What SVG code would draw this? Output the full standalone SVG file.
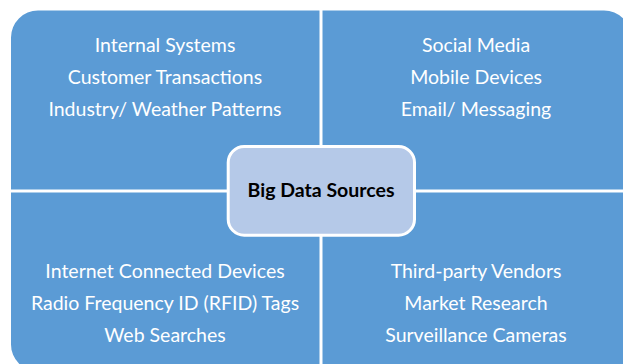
<svg xmlns="http://www.w3.org/2000/svg" width="623" height="364" viewBox="0 0 623 364">
  <style>
    .quad { fill: #5B9BD5; }
    .qtext { font-family: Lato, "Open Sans", "Liberation Sans", sans-serif; font-size: 19.5px; fill: #FFFFFF; text-anchor: middle; }
    .hub { fill: #B5C9E8; stroke: #FFFFFF; stroke-width: 3; }
    .htext { font-family: Lato, "Open Sans", "Liberation Sans", sans-serif; font-size: 19.5px; font-weight: bold; fill: #000000; text-anchor: middle; }
  </style>
  <rect width="623" height="364" fill="#FFFFFF"/>

  <!-- top-left quadrant -->
  <g id="internal">
    <path class="quad" d="M11,189.5 V37.5 A27,27 0 0 1 38,10.5 H319.5 V189.5 Z"/>
    <text class="qtext" x="165" y="51.5">Internal Systems</text>
    <text class="qtext" x="165" y="83.5">Customer Transactions</text>
    <text class="qtext" x="165" y="115.5">Industry/ Weather Patterns</text>
  </g>

  <!-- top-right quadrant -->
  <g id="social">
    <path class="quad" d="M322.5,10.5 H604 A27,27 0 0 1 631,37.5 V189.5 H322.5 Z"/>
    <text class="qtext" x="476" y="51.5">Social Media</text>
    <text class="qtext" x="476" y="83.5">Mobile Devices</text>
    <text class="qtext" x="476" y="115.5">Email/ Messaging</text>
  </g>

  <!-- bottom-left quadrant -->
  <g id="devices">
    <path class="quad" d="M11,192.5 H319.5 V371.5 H38 A27,27 0 0 1 11,344.5 Z"/>
    <text class="qtext" x="165" y="277.5">Internet Connected Devices</text>
    <text class="qtext" x="165" y="309.5">Radio Frequency ID (RFID) Tags</text>
    <text class="qtext" x="165" y="341.5">Web Searches</text>
  </g>

  <!-- bottom-right quadrant -->
  <g id="vendors">
    <path class="quad" d="M322.5,192.5 H631 V344.5 A27,27 0 0 1 604,371.5 H322.5 Z"/>
    <text class="qtext" x="476" y="277.5">Third-party Vendors</text>
    <text class="qtext" x="476" y="309.5">Market Research</text>
    <text class="qtext" x="476" y="341.5">Surveillance Cameras</text>
  </g>

  <!-- central hub -->
  <g id="hub">
    <rect class="hub" x="228.2" y="146.5" width="186.3" height="88.7" rx="16" ry="16"/>
    <text class="htext" x="321" y="196.5">Big Data Sources</text>
  </g>
</svg>
